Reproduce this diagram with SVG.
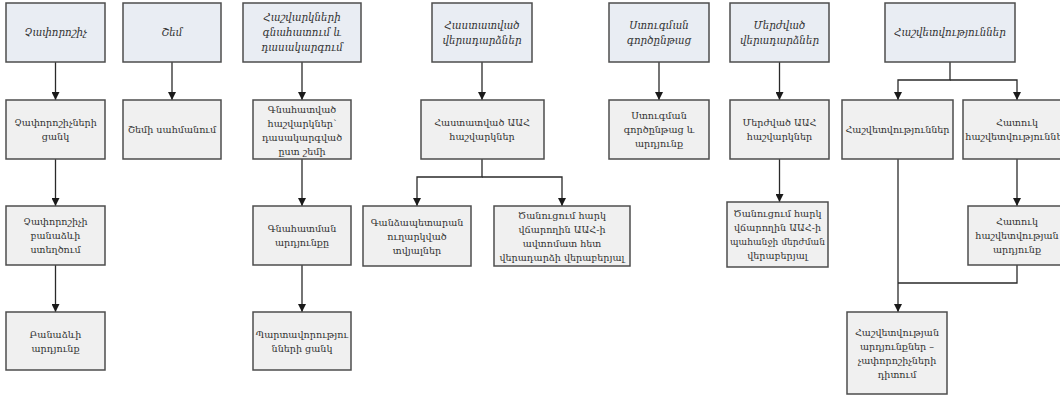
<svg xmlns="http://www.w3.org/2000/svg" width="1060" height="396" viewBox="0 0 1060 396">
<style>
.h{fill:#e9edf3;stroke:#4d4d4d;stroke-width:1.5}
.c{fill:#f0f0f0;stroke:#4d4d4d;stroke-width:1.5}
.ht{font-family:"DejaVu Serif","DejaVu Sans",serif;font-size:10.3px;font-style:italic;fill:#333;text-anchor:middle}
.ct{font-family:"DejaVu Serif","DejaVu Sans",serif;font-size:9.6px;fill:#333;text-anchor:middle}
.sm{font-size:9.1px}
.l{fill:none;stroke:#2a2a2a;stroke-width:1.3}
</style>
<defs>
<marker id="ah" viewBox="0 0 10 10" refX="10" refY="5" markerWidth="8" markerHeight="8" orient="auto" markerUnits="userSpaceOnUse"><path d="M0,0 L10,5 L0,10 z" fill="#1a1a1a"/></marker>
</defs>
<rect width="1060" height="396" fill="#ffffff"/>
<g id="connectors">
<path class="l" d="M55.5,62 V100" marker-end="url(#ah)"/>
<path class="l" d="M55.5,159 V206" marker-end="url(#ah)"/>
<path class="l" d="M55.5,265 V312" marker-end="url(#ah)"/>
<path class="l" d="M172,62 V100" marker-end="url(#ah)"/>
<path class="l" d="M302,62 V100" marker-end="url(#ah)"/>
<path class="l" d="M302,159 V206" marker-end="url(#ah)"/>
<path class="l" d="M302,265 V312" marker-end="url(#ah)"/>
<path class="l" d="M482,62 V100" marker-end="url(#ah)"/>
<path class="l" d="M482,159 V177 H417 V206" marker-end="url(#ah)"/>
<path class="l" d="M482,177 H562 V206" marker-end="url(#ah)"/>
<path class="l" d="M659,62 V100" marker-end="url(#ah)"/>
<path class="l" d="M779.5,62 V100" marker-end="url(#ah)"/>
<path class="l" d="M779.5,159 V202" marker-end="url(#ah)"/>
<path class="l" d="M950,62 V80 H898 V100" marker-end="url(#ah)"/>
<path class="l" d="M950,80 H1017 V100" marker-end="url(#ah)"/>
<path class="l" d="M1017,159 V206" marker-end="url(#ah)"/>
<path class="l" d="M898,159 V312" marker-end="url(#ah)"/>
<path class="l" d="M1017,265 V283 H898"/>
</g>
<g id="n1"><rect class="h" x="6" y="3" width="99" height="59"/><text class="ht" x="55.5" y="36">Չափորոշիչ</text></g>
<g id="n2"><rect class="h" x="123" y="3" width="98" height="59"/><text class="ht" x="172" y="36">Շեմ</text></g>
<g id="n3"><rect class="h" x="243" y="3" width="118" height="59"/><text class="ht" x="302" y="21">Հաշվարկների</text><text class="ht" x="302" y="36">գնահատում և</text><text class="ht" x="302" y="51">դասակարգում</text></g>
<g id="n4"><rect class="h" x="432" y="3" width="100" height="59"/><text class="ht" x="482" y="29">Հաստատված</text><text class="ht" x="482" y="44">վերադարձներ</text></g>
<g id="n5"><rect class="h" x="609" y="3" width="100" height="59"/><text class="ht" x="659" y="29">Ստուգման</text><text class="ht" x="659" y="44">գործընթաց</text></g>
<g id="n6"><rect class="h" x="730" y="3" width="99" height="59"/><text class="ht" x="779.5" y="29">Մերժված</text><text class="ht" x="779.5" y="44">վերադարձներ</text></g>
<g id="n7"><rect class="h" x="885" y="3" width="130" height="59"/><text class="ht" x="950" y="36">Հաշվետվություններ</text></g>
<g id="n1a"><rect class="c" x="6" y="100" width="99" height="59"/><text class="ct" x="55.5" y="126">Չափորոշիչների</text><text class="ct" x="55.5" y="140">ցանկ</text></g>
<g id="n1b"><rect class="c" x="6" y="206" width="99" height="59"/><text class="ct" x="55.5" y="225">Չափորոշիչի</text><text class="ct" x="55.5" y="239">բանաձևի</text><text class="ct" x="55.5" y="253">ստեղծում</text></g>
<g id="n1c"><rect class="c" x="6" y="312" width="99" height="58"/><text class="ct" x="55.5" y="338">Բանաձևի</text><text class="ct" x="55.5" y="352">արդյունք</text></g>
<g id="n2a"><rect class="c" x="123" y="100" width="98" height="59"/><text class="ct" x="172" y="133">Շեմի սահմանում</text></g>
<g id="n3a"><rect class="c" x="253" y="100" width="98" height="59"/><text class="ct" x="302" y="113">Գնահատված</text><text class="ct" x="302" y="127">հաշվարկներ՝</text><text class="ct" x="302" y="141">դասակարգված</text><text class="ct" x="302" y="155">ըստ շեմի</text></g>
<g id="n3b"><rect class="c" x="253" y="206" width="98" height="59"/><text class="ct" x="302" y="232">Գնահատման</text><text class="ct" x="302" y="246">արդյունքը</text></g>
<g id="n3c"><rect class="c" x="253" y="312" width="98" height="58"/><text class="ct" x="302" y="338">Պարտավորությու</text><text class="ct" x="302" y="352">նների ցանկ</text></g>
<g id="n4a"><rect class="c" x="421" y="100" width="123" height="59"/><text class="ct" x="482" y="126">Հաստատված ԱԱՀ</text><text class="ct" x="482" y="140">հաշվարկներ</text></g>
<g id="n4b"><rect class="c" x="363" y="206" width="108" height="60"/><text class="ct" x="417" y="226">Գանձապետարան</text><text class="ct" x="417" y="240">ուղարկված</text><text class="ct" x="417" y="254">տվյալներ</text></g>
<g id="n4c"><rect class="c" x="494" y="206" width="136" height="60"/><text class="ct" x="562" y="219">Ծանուցում հարկ</text><text class="ct" x="562" y="233">վճարողին ԱԱՀ-ի</text><text class="ct" x="562" y="247">ավտոմատ հետ</text><text class="ct" x="562" y="261">վերադարձի վերաբերյալ</text></g>
<g id="n5a"><rect class="c" x="609" y="100" width="100" height="59"/><text class="ct" x="659" y="119">Ստուգման</text><text class="ct" x="659" y="133">գործընթաց և</text><text class="ct" x="659" y="147">արդյունք</text></g>
<g id="n6a"><rect class="c" x="730" y="100" width="99" height="59"/><text class="ct" x="779.5" y="126">Մերժված ԱԱՀ</text><text class="ct" x="779.5" y="140">հաշվարկներ</text></g>
<g id="n6b"><rect class="c" x="727" y="202" width="101" height="65"/><text class="ct" x="777.5" y="217">Ծանուցում հարկ</text><text class="ct" x="777.5" y="231">վճարողին ԱԱՀ-ի</text><text class="ct sm" x="777.5" y="245">պահանջի մերժման</text><text class="ct" x="777.5" y="259">վերաբերյալ</text></g>
<g id="n7a"><rect class="c" x="842" y="100" width="111" height="59"/><text class="ct" x="897.5" y="133">Հաշվետվություններ</text></g>
<g id="n7b"><rect class="c" x="963" y="100" width="108" height="59"/><text class="ct" x="1017" y="126">Հատուկ</text><text class="ct" x="1017" y="140">հաշվետվություններ</text></g>
<g id="n7c"><rect class="c" x="968" y="206" width="98" height="59"/><text class="ct" x="1017" y="225">Հատուկ</text><text class="ct" x="1017" y="239">հաշվետվության</text><text class="ct" x="1017" y="253">արդյունք</text></g>
<g id="n7d"><rect class="c" x="847" y="312" width="100" height="82"/><text class="ct" x="897" y="336">Հաշվետվության</text><text class="ct" x="897" y="350">արդյունքներ –</text><text class="ct" x="897" y="364">չափորոշիչների</text><text class="ct" x="897" y="378">դիտում</text></g>
</svg>
